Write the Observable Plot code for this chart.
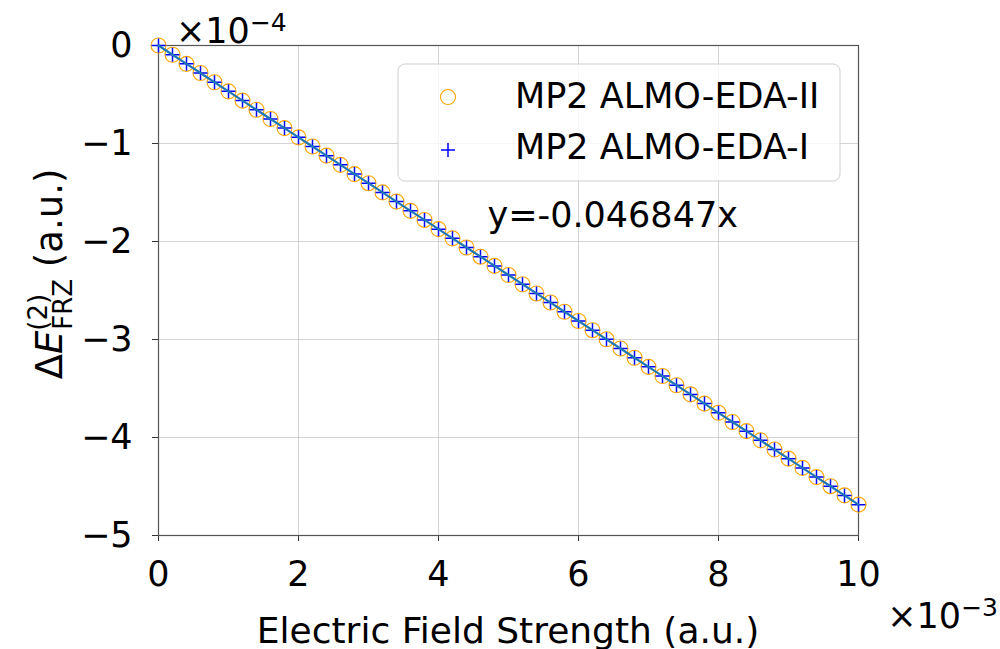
<!DOCTYPE html>
<html>
<head>
<meta charset="utf-8">
<script src="https://cdn.jsdelivr.net/npm/d3@7"></script>
<script src="https://cdn.jsdelivr.net/npm/@observablehq/plot@0.6"></script>
<style>
  html, body { margin: 0; padding: 0; background: #fff; }
  svg { display: block; }
</style>
</head>
<body>
<div id="chart"></div>
<script>
// Electric field strength (units of 1e-3 a.u.)
const fieldStrength = [0, 0.2, 0.4, 0.6, 0.8, 1.0, 1.2, 1.4, 1.6, 1.8, 2.0, 2.2, 2.4, 2.6, 2.8, 3.0, 3.2, 3.4, 3.6, 3.8, 4.0,
  4.2, 4.4, 4.6, 4.8, 5.0, 5.2, 5.4, 5.6, 5.8, 6.0, 6.2, 6.4, 6.6, 6.8, 7.0, 7.2, 7.4, 7.6, 7.8, 8.0,
  8.2, 8.4, 8.6, 8.8, 9.0, 9.2, 9.4, 9.6, 9.8, 10.0];
// ΔE_FRZ(2) (units of 1e-4 a.u.), MP2 ALMO-EDA-II
const edaII = [0, -0.094, -0.187, -0.281, -0.375, -0.468, -0.562, -0.656, -0.750, -0.843, -0.937, -1.031, -1.124, -1.218, -1.312, -1.405,
  -1.499, -1.593, -1.687, -1.780, -1.874, -1.968, -2.061, -2.155, -2.249, -2.342, -2.436, -2.530, -2.623, -2.717, -2.811,
  -2.905, -2.998, -3.092, -3.186, -3.279, -3.373, -3.467, -3.560, -3.654, -3.748, -3.842, -3.935, -4.029, -4.123, -4.216,
  -4.310, -4.404, -4.497, -4.591, -4.685];
// MP2 ALMO-EDA-I
const edaI = [0, -0.094, -0.187, -0.281, -0.375, -0.468, -0.562, -0.656, -0.750, -0.843, -0.937, -1.031, -1.124, -1.218, -1.312, -1.405,
  -1.499, -1.593, -1.687, -1.780, -1.874, -1.968, -2.061, -2.155, -2.249, -2.342, -2.436, -2.530, -2.623, -2.717, -2.811,
  -2.905, -2.998, -3.092, -3.186, -3.279, -3.373, -3.467, -3.560, -3.654, -3.748, -3.842, -3.935, -4.029, -4.123, -4.216,
  -4.310, -4.404, -4.497, -4.591, -4.685];
const seriesNames = ["MP2 ALMO-EDA-II", "MP2 ALMO-EDA-I"];
const xTicks = [0, 2, 4, 6, 8, 10];
const yTicks = [0, -1, -2, -3, -4, -5];
const fitLabel = "y=-0.046847x";
const fitLabelPos = {x: 4.7, y: -1.85};

const dataII = fieldStrength.map((x, i) => ({x, y: edaII[i]}));
const dataI = fieldStrength.map((x, i) => ({x, y: edaI[i]}));

const FONT = "DejaVu Sans, sans-serif";
const FS = 35;
const LFS = 36;
const fmt = d => d < 0 ? "\u2212" + (-d) : String(d);

const plusSymbol = {
  draw(ctx, size) {
    const r = Math.sqrt(size / Math.PI);
    ctx.moveTo(-r, 0); ctx.lineTo(r, 0);
    ctx.moveTo(0, -r); ctx.lineTo(0, r);
  }
};

const chart = Plot.plot({
  width: 1000,
  height: 649,
  marginLeft: 158,
  marginRight: 142,
  marginTop: 45,
  marginBottom: 114,
  style: {fontFamily: FONT, fontSize: FS + "px", color: "#000", background: "#fff", overflow: "visible"},
  x: {domain: [0, 10]},
  y: {domain: [-5, 0]},
  marks: [
    Plot.gridX(xTicks, {stroke: "#b0b0b0", strokeOpacity: 0.55, strokeWidth: 1}),
    Plot.gridY(yTicks, {stroke: "#b0b0b0", strokeOpacity: 0.55, strokeWidth: 1}),
    Plot.axisX({ticks: xTicks, tickFormat: fmt, tickSize: 6, tickPadding: 20, label: null, fontSize: FS, stroke: "#333"}),
    Plot.axisY({ticks: yTicks, tickFormat: fmt, tickSize: 6, tickPadding: 20, label: null, fontSize: FS, stroke: "#333"}),
    Plot.frame({stroke: "#555", strokeWidth: 1.2}),
    Plot.dot(dataII, {x: "x", y: "y", r: 7.5, stroke: "orange", strokeWidth: 1.1, fill: "none"}),
    Plot.dot(dataI, {x: "x", y: "y", r: 7, symbol: plusSymbol, stroke: "blue", strokeWidth: 1.5, fill: "none"}),
    Plot.line(dataI, {x: "x", y: "y", stroke: "#1f77b4", strokeWidth: 2.2}),
    Plot.text([fitLabel], {x: () => fitLabelPos.x, y: () => fitLabelPos.y, text: d => d, textAnchor: "start", lineAnchor: "bottom", fontSize: FS, fill: "#000"})
  ]
});

document.getElementById("chart").appendChild(chart);
const svg = d3.select(chart);

// Legend
const lg = svg.append("g").attr("font-family", FONT).attr("font-size", FS).attr("text-anchor", "start");
lg.append("rect").attr("x", 398).attr("y", 64).attr("width", 442).attr("height", 117)
  .attr("rx", 7).attr("fill", "#fff").attr("fill-opacity", 0.8).attr("stroke", "#d0d0d0").attr("stroke-width", 1);
lg.append("circle").attr("cx", 448).attr("cy", 97).attr("r", 7.5).attr("fill", "none").attr("stroke", "orange").attr("stroke-width", 1.1);
lg.append("path").attr("d", "M441,150H455M448,143V157").attr("stroke", "blue").attr("stroke-width", 1.5);
lg.append("text").attr("x", 515).attr("y", 108).attr("text-anchor", "start").text(seriesNames[0]);
lg.append("text").attr("x", 515).attr("y", 159).attr("text-anchor", "start").text(seriesNames[1]);

// Axis labels
svg.append("text").attr("x", 508).attr("y", 643).attr("text-anchor", "middle")
  .attr("font-family", FONT).attr("font-size", LFS).text("Electric Field Strength (a.u.)");

const yl = svg.append("text").attr("transform", "translate(62,274) rotate(-90)")
  .attr("text-anchor", "middle").attr("font-family", FONT).attr("font-size", 37);
yl.append("tspan").text("\u0394");
yl.append("tspan").attr("font-style", "italic").text("E");
yl.append("tspan").attr("font-size", 26).attr("dy", -15).text("(2)");
yl.append("tspan").attr("font-size", 26).attr("dx", -36).attr("dy", 25).text("FRZ");
yl.append("tspan").attr("dy", -10).text(" (a.u.)");

// Offset texts
const off1 = svg.append("text").attr("x", 176).attr("y", 43).attr("text-anchor", "start").attr("font-family", FONT).attr("font-size", FS);
off1.append("tspan").text("\u00d710");
off1.append("tspan").attr("font-size", 25).attr("dy", -12).text("\u22124");

const off2 = svg.append("text").attr("x", 998).attr("y", 628).attr("text-anchor", "end").attr("font-family", FONT).attr("font-size", FS);
off2.append("tspan").text("\u00d710");
off2.append("tspan").attr("font-size", 25).attr("dy", -12).text("\u22123");
</script>
</body>
</html>
